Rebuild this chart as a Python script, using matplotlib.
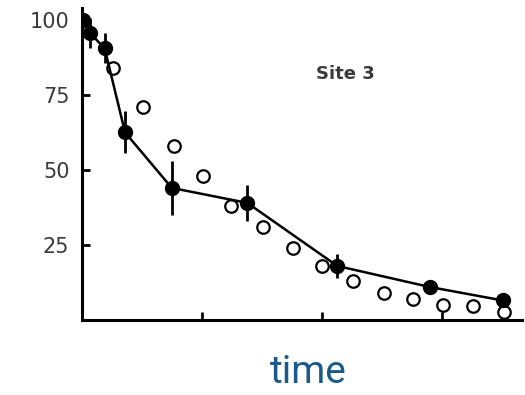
import matplotlib.pyplot as plt

# measured site 3 (filled) with error bars
t_meas = [0.01, 0.07, 0.19, 0.36, 0.75, 1.38, 2.13, 2.90, 3.51]
v_meas = [100, 95.5, 90.5, 62.5, 44, 39, 18, 11, 6.5]
v_err = [1.5, 5, 5, 7, 9, 6, 4, 1.5, 1.5]

# model curve (open circles)
t_model = [0.26, 0.51, 0.77, 1.01, 1.24, 1.51, 1.76, 2.0, 2.26, 2.52, 2.76, 3.01, 3.26, 3.52]
v_model = [84, 71, 58, 48, 38, 31, 24, 18, 13, 9, 7, 5, 4.5, 2.5]

y_ticks = [25, 50, 75, 100]
x_ticks = [1, 2, 3]

fig = plt.figure(figsize=(5.25, 3.95), dpi=100)
ax = fig.add_axes([0.156, 0.19, 0.838, 0.79])

ax.errorbar(t_meas, v_meas, yerr=v_err, fmt='o-', color='black', ms=10,
            lw=1.8, elinewidth=2, capsize=0, zorder=3)
ax.plot(t_model, v_model, 'o', mfc='white', mec='black', ms=9, mew=1.6, zorder=2)

ax.text(2.20, 82, 'Site 3', fontsize=13, fontweight='bold', color='#3a3a3a',
        ha='center', va='center')

ax.set_xlim(0, 3.67)
ax.set_ylim(0, 104)
ax.set_yticks(y_ticks)
ax.set_yticklabels([str(v) for v in y_ticks], fontsize=15, color='#3a3a3a')
ax.set_xticks(x_ticks)
ax.set_xticklabels([])
ax.tick_params(direction='in', length=6, width=2, pad=9)
for side in ['top', 'right']:
    ax.spines[side].set_visible(False)
for side in ['left', 'bottom']:
    ax.spines[side].set_linewidth(2.2)

fig.text(0.587, 0.058, 'time', fontsize=28, color='#1a5a8a', family='Roboto',
         ha='center', va='center')

fig.savefig('out.png', dpi=100)
